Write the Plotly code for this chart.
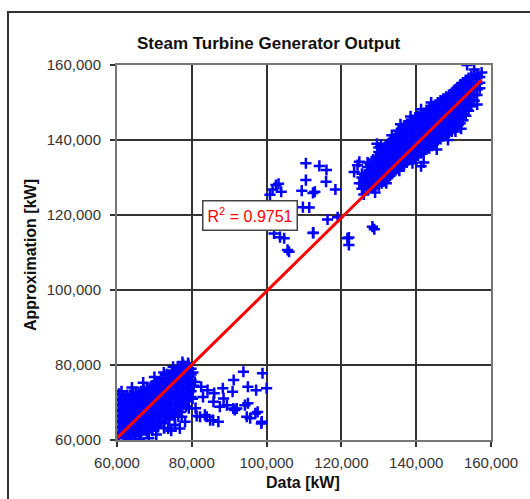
import plotly.graph_objects as go

# ---------------- data (values in thousands of kW) ----------------
# dense upper cluster: column x positions and y values in each column
upper_col_x = [125.5, 127, 128.5, 130, 131.5, 133, 134.5, 136, 137.5, 139, 140.5,
               142, 143.5, 145, 146.5, 148, 149.5, 151, 152.5, 154, 155.5, 157]
upper_col_y = [
    [127, 128.5, 130, 131],
    [126.8, 128.3, 129.8, 131.3, 132.8, 134],
    [127.3, 128.8, 130.3, 131.8, 133.3, 134.8],
    [127.8, 129.3, 130.8, 132.3, 133.8, 135.3, 136.8, 138],
    [129, 130.5, 132, 133.5, 135, 136.5, 138],
    [130.5, 132, 133.5, 135, 136.5, 138, 139.5],
    [132, 133.5, 135, 136.5, 138, 139.5, 141],
    [133, 134.5, 136, 137.5, 139, 140.5, 142, 143],
    [134, 135.5, 137, 138.5, 140, 141.5, 143, 144.3],
    [135, 136.5, 138, 139.5, 141, 142.5, 144, 145.3],
    [135.8, 137.3, 138.8, 140.3, 141.8, 143.3, 144.8, 146.3],
    [134, 136.8, 138.3, 139.8, 141.3, 142.8, 144.3, 145.8, 147.2],
    [137.8, 139.3, 140.8, 142.3, 143.8, 145.3, 146.8, 148.3],
    [139.3, 140.8, 142.3, 143.8, 145.3, 146.8, 148.3, 149.3],
    [140.3, 141.8, 143.3, 144.8, 146.3, 147.8, 149.3, 150.5],
    [141.5, 143, 144.5, 146, 147.5, 149, 150.5, 151.5],
    [142.3, 143.8, 145.3, 146.8, 148.3, 149.8, 151.3, 152.5],
    [143.8, 145.3, 146.8, 148.3, 149.8, 151.3, 152.8, 154],
    [145.3, 146.8, 148.3, 149.8, 151.3, 152.8, 154.3, 155.3],
    [147.8, 149.3, 150.8, 152.3, 153.8, 155.3, 156.5],
    [150.5, 152, 153.5, 155, 156.5, 157.2],
    [153.8, 155.3, 156.8],
]
# interleaved columns of the same upper cluster
upper_mid_x = [126.25, 127.75, 129.25, 130.75, 132.25, 133.75, 135.25, 136.75, 138.25,
               139.75, 141.25, 142.75, 144.25, 145.75, 147.25, 148.75, 150.25, 151.75,
               153.25, 154.75, 156.25]
upper_mid_y = [
    [127.7, 129.2, 130.7],
    [127.5, 129, 130.5, 132, 133.5],
    [128, 129.5, 131, 132.5, 134, 135.5],
    [128.5, 130, 131.5, 133, 134.5, 136, 137.5],
    [129.8, 131.3, 132.8, 134.3, 135.8, 137.3, 138.8],
    [131.3, 132.8, 134.3, 135.8, 137.3, 138.8, 140.3],
    [132.5, 134, 135.5, 137, 138.5, 140, 141.5, 142.5],
    [133.5, 135, 136.5, 138, 139.5, 141, 142.5, 143.8],
    [134.8, 136.3, 137.8, 139.3, 140.8, 142.3, 143.8, 145],
    [135.5, 137, 138.5, 140, 141.5, 143, 144.5, 146],
    [136.5, 138, 139.5, 141, 142.5, 144, 145.5, 147],
    [137.5, 139, 140.5, 142, 143.5, 145, 146.5, 148],
    [138.5, 140, 141.5, 143, 144.5, 146, 147.5, 149],
    [140, 141.5, 143, 144.5, 146, 147.5, 149, 150],
    [141, 142.5, 144, 145.5, 147, 148.5, 150, 151],
    [142, 143.5, 145, 146.5, 148, 149.5, 151, 152],
    [143, 144.5, 146, 147.5, 149, 150.5, 152, 153.3],
    [144.5, 146, 147.5, 149, 150.5, 152, 153.5, 154.7],
    [146.5, 148, 149.5, 151, 152.5, 154, 155.5, 156],
    [149, 150.5, 152, 153.5, 155, 156.5, 157],
    [152, 153.5, 155, 156.5, 157.5],
]
upper_edge_x = [126, 124.8, 129.5, 130.6, 133.5, 135.8, 138.5, 141.3, 144, 153.6, 155.5,
                157.5, 156.3, 152, 148.5, 141.3, 145.5, 139, 135.5, 132, 129, 150.5]
upper_edge_y = [125.5, 128.5, 139, 138.7, 141.3, 144.2, 146.3, 148.2, 150, 160, 158.8,
                158, 149.5, 143, 140, 133, 137.5, 133.8, 131.8, 128.5, 126, 142.3]

# dense lower cluster
lower_col_x = [60.5, 62, 63.5, 65, 66.5, 68, 69.5, 71, 72.5, 74, 75.5, 77, 78.5, 79.8]
lower_col_y = [
    [60.5, 62, 63.5, 65, 66.5, 68, 69.5, 70.7],
    [61, 62.5, 64, 65.5, 67, 68.5, 70, 71.5],
    [61, 62.5, 64, 65.5, 67, 68.5, 70, 71.5, 72],
    [61, 62.5, 64, 65.5, 67, 68.5, 70, 71.5, 72.7],
    [61.5, 63, 64.5, 66, 67.5, 69, 70.5, 72, 73],
    [62, 63.5, 65, 66.5, 68, 69.5, 71, 72.5, 73.7],
    [62.5, 64, 65.5, 67, 68.5, 70, 71.5, 73, 74.5],
    [63.5, 65, 66.5, 68, 69.5, 71, 72.5, 74, 75.5],
    [64.5, 66, 67.5, 69, 70.5, 72, 73.5, 75, 76.5],
    [65.5, 67, 68.5, 70, 71.5, 73, 74.5, 76, 77.3],
    [66.5, 68, 69.5, 71, 72.5, 74, 75.5, 77, 78.2],
    [67.5, 69, 70.5, 72, 73.5, 75, 76.5, 78, 79.3],
    [69, 70.5, 72, 73.5, 75, 76.5, 78, 79.5],
    [71.5, 73, 74.5, 76, 77.5, 79],
]
lower_mid_x = [61.25, 62.75, 64.25, 65.75, 67.25, 68.75, 70.25, 71.75, 73.25, 74.75,
               76.25, 77.75, 79.15]
lower_mid_y = [
    [61.8, 63.3, 64.8, 66.3, 67.8, 69.3, 70.8],
    [61.8, 63.3, 64.8, 66.3, 67.8, 69.3, 70.8, 72],
    [61.8, 63.3, 64.8, 66.3, 67.8, 69.3, 70.8, 72.3],
    [62.3, 63.8, 65.3, 66.8, 68.3, 69.8, 71.3, 72.8],
    [62.8, 64.3, 65.8, 67.3, 68.8, 70.3, 71.8, 73.3],
    [63.3, 64.8, 66.3, 67.8, 69.3, 70.8, 72.3, 73.8],
    [64, 65.5, 67, 68.5, 70, 71.5, 73, 74.5, 75.5],
    [65, 66.5, 68, 69.5, 71, 72.5, 74, 75.5, 76.3],
    [66, 67.5, 69, 70.5, 72, 73.5, 75, 76.5, 77.5],
    [67, 68.5, 70, 71.5, 73, 74.5, 76, 77.5, 78.5],
    [68, 69.5, 71, 72.5, 74, 75.5, 77, 78.5, 79.5],
    [69.5, 71, 72.5, 74, 75.5, 77, 78.5, 80],
    [71, 72.5, 74, 75.5, 77, 78.5, 80],
]
lower_edge_x = [60.5, 61.2, 64, 67, 70, 72.5, 75, 77.5, 79, 80.3, 80.5, 63, 66, 68.5,
                70.5, 72.6, 75.5, 77.3, 79.2, 74.5]
lower_edge_y = [72.3, 73, 74, 75.3, 76.8, 78, 79.5, 80.8, 80.5, 78, 74.5, 60.2, 60.3, 60.5,
                61.5, 63.2, 64, 66.2, 68.5, 62.5]

# sparse points to the lower right
sparse_low_x = [93.8, 98.9, 82.5, 84.2, 88.3, 90.9, 95.0, 97.2, 100.0, 85.8, 88.5, 89.4,
                92.0, 95.0, 97.6, 81.3, 84.0, 84.9, 87.1, 98.7, 91.2, 91.5, 95.6, 98.6,
                86.0, 83.0, 80.8, 76.4, 73.7, 76.8, 78.2, 80.2, 81.0, 72.6, 75.5, 83.5,
                85.7, 87.5, 91.1, 94.2, 94.7, 97.0, 82.2]
sparse_low_y = [78.2, 77.8, 74.2, 73.3, 73.8, 72.9, 74.2, 73.3, 73.8, 70.2, 71.1, 69.3,
                68.4, 69.8, 67.5, 66.4, 66.2, 65.3, 64.9, 64.9, 76.0, 68.0, 65.8, 64.4,
                72.5, 71.5, 75.5, 66.2, 63.1, 63.1, 64.9, 71.0, 68.5, 63.2, 64.0, 66.7,
                65.3, 68.9, 68.4, 69.3, 66.2, 67.1, 66.2]

# sparse points in the middle
sparse_mid_x = [110.5, 114.1, 116.0, 110.5, 115.9, 118.4, 112.9, 109.4, 103.2, 101.6,
                103.9, 111.4, 116.3, 119.0, 112.5, 104.7, 106.0, 102.0, 122.0, 122.0,
                124.3, 123.4, 124.8, 128.3, 128.8, 121.6, 105.6, 100.9, 102.5, 109.7,
                112.4, 112.4, 103.6]
sparse_mid_y = [133.8, 133.1, 132.0, 129.3, 128.9, 126.8, 126.2, 126.5, 128.3, 126.8,
                126.2, 122.0, 118.8, 119.4, 115.3, 113.8, 110.2, 115.1, 114.0, 112.0,
                133.3, 131.5, 134.2, 116.9, 116.2, 113.8, 110.7, 125.4, 128.0, 122.1,
                125.9, 115.2, 114.1]

# linear trend line
trend_x = [60.0, 157.5]
trend_y = [60.5, 156.0]
r_squared = "0.9751"

tick_vals = [60000, 80000, 100000, 120000, 140000, 160000]

# ---------------- build point arrays ----------------
pts_x, pts_y = [], []
for col_x, col_y in [(upper_col_x, upper_col_y), (upper_mid_x, upper_mid_y),
                     (lower_col_x, lower_col_y), (lower_mid_x, lower_mid_y)]:
    for cx, cys in zip(col_x, col_y):
        for cy in cys:
            pts_x.append(cx * 1000)
            pts_y.append(cy * 1000)
for xs, ys in [(upper_edge_x, upper_edge_y), (lower_edge_x, lower_edge_y),
               (sparse_low_x, sparse_low_y), (sparse_mid_x, sparse_mid_y)]:
    pts_x += [v * 1000 for v in xs]
    pts_y += [v * 1000 for v in ys]

fig = go.Figure()
fig.add_trace(go.Scatter(
    x=pts_x, y=pts_y, mode="markers",
    marker=dict(symbol="cross-thin", size=8, color="#0000FF",
                line=dict(color="#0000FF", width=2.5)),
    hoverinfo="skip", showlegend=False))
fig.add_trace(go.Scatter(
    x=[v * 1000 for v in trend_x], y=[v * 1000 for v in trend_y], mode="lines",
    line=dict(color="#FF0000", width=3), showlegend=False, hoverinfo="skip"))

axis_common = dict(
    range=[60000, 160000], tickvals=tick_vals,
    ticktext=[f"{v:,}" for v in tick_vals],
    showgrid=True, gridcolor="#333333", gridwidth=1.5,
    zeroline=False, showline=True, linecolor="#777777", linewidth=2, mirror=True,
    ticks="outside", ticklen=5, tickcolor="#333333", tickwidth=1.5,
    tickfont=dict(family="Arial, Liberation Sans", size=15, color="#333333"),
)
fig.update_layout(
    width=530, height=499,
    margin=dict(l=117, r=39, t=65, b=59, pad=0),
    paper_bgcolor="white", plot_bgcolor="white",
    xaxis=dict(axis_common, ticklabelstandoff=3),
    yaxis=dict(axis_common, ticklabelstandoff=6),
    font=dict(family="Arial, Liberation Sans"),
    shapes=[dict(type="rect", xref="paper", yref="paper",
                 x0=(8 - 117) / 374, x1=(545 - 117) / 374,
                 y0=(440 - 515) / 375, y1=(440 - 12) / 375,
                 line=dict(color="#333333", width=2), layer="below")],
    annotations=[
        dict(text="<b>Steam Turbine Generator Output</b>", xref="paper", yref="paper",
             x=(269 - 117) / 374, y=(440 - 43) / 375, showarrow=False,
             xanchor="center", yanchor="middle",
             font=dict(size=17, color="#111111")),
        dict(text="<b>Data [kW]</b>", xref="paper", yref="paper",
             x=(303 - 117) / 374, y=(440 - 482) / 375, showarrow=False,
             xanchor="center", yanchor="middle",
             font=dict(size=16, color="#111111")),
        dict(text="<b>Approximation [kW]</b>", xref="paper", yref="paper",
             x=(31 - 117) / 374, y=(440 - 255) / 375, showarrow=False,
             textangle=-90, xanchor="center", yanchor="middle",
             font=dict(size=16, color="#111111")),
        dict(text=f"R<sup>2</sup> = {r_squared}", xref="x", yref="y",
             x=95500, y=120000, showarrow=False, xanchor="center", yanchor="middle",
             font=dict(size=16, color="#FF0000"),
             bgcolor="white", bordercolor="#444444", borderwidth=1.5, borderpad=4),
    ],
)

fig.write_html("out.html")
